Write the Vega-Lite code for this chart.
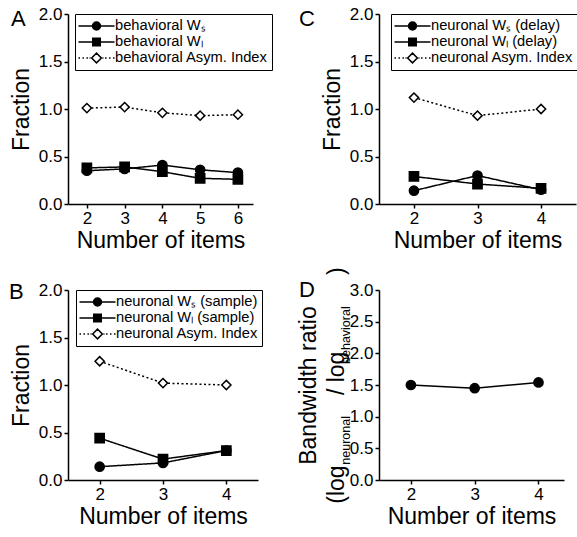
{
  "$schema": "https://vega.github.io/schema/vega-lite/v6.json",
  "padding": {"left": 9, "top": 5, "right": 0, "bottom": 0},
  "background": "white",
  "config": {
    "font": "Liberation Sans",
    "view": {"stroke": null},
    "axis": {"domainColor": "black", "domainWidth": 1.5, "tickColor": "black", "tickWidth": 1.5, "tickSize": 4, "labelColor": "black", "labelFontSize": 17, "labelPadding": 2, "titleColor": "black", "titleFontSize": 23, "titleFontWeight": "normal", "grid": false, "labelFlush": false, "labelFont": "Liberation Sans", "titleFont": "Liberation Sans"},
    "title": {"fontSize": 22, "fontWeight": "normal", "anchor": "start", "frame": "group", "color": "black", "baseline": "alphabetic", "font": "Liberation Sans"},
    "legend": {"labelFont": "Liberation Sans", "labelFontSize": 14.7, "labelColor": "black", "labelLimit": 300, "strokeColor": "black", "padding": 3.5, "symbolSize": 225, "symbolOffset": 9.5, "labelOffset": 10, "rowPadding": 0, "symbolStrokeWidth": 1.5, "symbolOpacity": 1}
  },
  "bounds": "flush",
  "columns": 2,
  "spacing": {"row": 86, "column": 121},
  "resolve": {"scale": {"shape": "independent", "fill": "independent", "strokeDash": "independent"}, "legend": {"shape": "independent", "fill": "independent", "strokeDash": "independent"}},
  "concat": [
        {
          "width": 185, "height": 190,
          "title": {"text": "A", "offset": -26, "dx": -57},
          "data": {"values": [
            {"n": 2, "s": "Ws", "v": 0.35}, {"n": 3, "s": "Ws", "v": 0.37}, {"n": 4, "s": "Ws", "v": 0.41}, {"n": 5, "s": "Ws", "v": 0.36}, {"n": 6, "s": "Ws", "v": 0.33},
            {"n": 2, "s": "Wl", "v": 0.38}, {"n": 3, "s": "Wl", "v": 0.39}, {"n": 4, "s": "Wl", "v": 0.34}, {"n": 5, "s": "Wl", "v": 0.27}, {"n": 6, "s": "Wl", "v": 0.26},
            {"n": 2, "s": "AI", "v": 1.01}, {"n": 3, "s": "AI", "v": 1.02}, {"n": 4, "s": "AI", "v": 0.96}, {"n": 5, "s": "AI", "v": 0.93}, {"n": 6, "s": "AI", "v": 0.94}
          ]},
          "encoding": {
            "x": {"field": "n", "type": "quantitative", "scale": {"domain": [1.5, 6.4], "nice": false, "zero": false}, "axis": {"values": [2, 3, 4, 5, 6], "format": "d", "title": "Number of items", "titlePadding": 3}},
            "y": {"field": "v", "type": "quantitative", "scale": {"domain": [0, 2], "nice": false}, "axis": {"values": [0, 0.5, 1, 1.5, 2], "format": ".1f", "title": "Fraction", "titlePadding": 5}}
          },
          "resolve": {"scale": {"shape": "independent", "fill": "independent"}, "legend": {"shape": "independent", "fill": "independent"}},
          "layer": [
            {"mark": {"type": "line", "color": "black", "strokeWidth": 1.5},
             "encoding": {"strokeDash": {"field": "s", "type": "nominal", "scale": {"domain": ["AI", "Wl", "Ws"], "range": [[2, 2.5], [1, 0], [1, 0]]}, "legend": null}}},
            {"mark": {"type": "point", "filled": true, "stroke": "black", "strokeWidth": 1.5, "size": 85, "opacity": 1},
             "encoding": {
               "shape": {"field": "s", "type": "nominal", "scale": {"domain": ["Wl", "Ws", "AI"], "range": ["square", "circle", "diamond"]}, "legend": null},
               "fill": {"field": "s", "type": "nominal", "scale": {"domain": ["AI", "Ws", "Wl"], "range": ["white", "black", "black"]}, "legend": null}
             }},
            {"mark": {"type": "point", "filled": true, "stroke": "black", "strokeWidth": 1.5, "opacity": 0},
             "encoding": {
               "shape": {"field": "s", "type": "nominal", "scale": {"domain": ["Ws", "Wl", "AI"], "range": ["M-2.4,0H-0.53M0.53,0H2.4M-0.53,0A0.53,0.53,0,1,1,0.53,0A0.53,0.53,0,1,1,-0.53,0Z", "M-2.4,0H-0.5M0.5,0H2.4M-0.5,-0.5H0.5V0.5H-0.5Z", "M-2.4,0H-2.2M-1.87,0H-1.67M-1.34,0H-1.14M-0.93,0H-0.8M0.8,0H0.93M1.14,0H1.34M1.67,0H1.87M2.2,0H2.4M-0.65,0L0,-0.65L0.65,0L0,0.65Z"]},
                 "legend": {"title": null, "orient": "none", "legendX": 7, "legendY": 0,
                   "labelExpr": "datum.value == 'Ws' ? 'behavioral Wₛ' : datum.value == 'Wl' ? 'behavioral Wₗ' : 'behavioral Asym. Index'",
                   "encode": {"symbols": {"stroke": {"value": "black"}, "strokeWidth": {"value": 1.5}}}}},
               "fill": {"field": "s", "type": "nominal", "scale": {"domain": ["Ws", "Wl", "AI"], "range": ["black", "black", "white"]},
                 "legend": {"title": null, "orient": "none", "legendX": 7, "legendY": 0,
                   "labelExpr": "datum.value == 'Ws' ? 'behavioral Wₛ' : datum.value == 'Wl' ? 'behavioral Wₗ' : 'behavioral Asym. Index'",
                   "encode": {"symbols": {"stroke": {"value": "black"}, "strokeWidth": {"value": 1.5}}}}}
             }}
          ]
        },
        {
          "width": 197, "height": 190,
          "title": {"text": "C", "offset": -26, "dx": -80},
          "data": {"values": [
            {"n": 2, "s": "Ws", "v": 0.14}, {"n": 3, "s": "Ws", "v": 0.30}, {"n": 4, "s": "Ws", "v": 0.15},
            {"n": 2, "s": "Wl", "v": 0.29}, {"n": 3, "s": "Wl", "v": 0.21}, {"n": 4, "s": "Wl", "v": 0.165},
            {"n": 2, "s": "AI", "v": 1.12}, {"n": 3, "s": "AI", "v": 0.93}, {"n": 4, "s": "AI", "v": 1.0}
          ]},
          "encoding": {
            "x": {"field": "n", "type": "quantitative", "scale": {"domain": [1.45, 4.55], "nice": false, "zero": false}, "axis": {"values": [2, 3, 4], "format": "d", "title": "Number of items", "titlePadding": 3}},
            "y": {"field": "v", "type": "quantitative", "scale": {"domain": [0, 2], "nice": false}, "axis": {"values": [0, 0.5, 1, 1.5, 2], "format": ".1f", "title": "Fraction", "titlePadding": 5}}
          },
          "resolve": {"scale": {"shape": "independent", "fill": "independent"}, "legend": {"shape": "independent", "fill": "independent"}},
          "layer": [
            {"mark": {"type": "line", "color": "black", "strokeWidth": 1.5},
             "encoding": {"strokeDash": {"field": "s", "type": "nominal", "scale": {"domain": ["AI", "Wl", "Ws"], "range": [[2, 2.5], [1, 0], [1, 0]]}, "legend": null}}},
            {"mark": {"type": "point", "filled": true, "stroke": "black", "strokeWidth": 1.5, "size": 85, "opacity": 1},
             "encoding": {
               "shape": {"field": "s", "type": "nominal", "scale": {"domain": ["Wl", "Ws", "AI"], "range": ["square", "circle", "diamond"]}, "legend": null},
               "fill": {"field": "s", "type": "nominal", "scale": {"domain": ["AI", "Ws", "Wl"], "range": ["white", "black", "black"]}, "legend": null}
             }},
            {"mark": {"type": "point", "filled": true, "stroke": "black", "strokeWidth": 1.5, "opacity": 0},
             "encoding": {
               "shape": {"field": "s", "type": "nominal", "scale": {"domain": ["Ws", "Wl", "AI"], "range": ["M-2.4,0H-0.53M0.53,0H2.4M-0.53,0A0.53,0.53,0,1,1,0.53,0A0.53,0.53,0,1,1,-0.53,0Z", "M-2.4,0H-0.5M0.5,0H2.4M-0.5,-0.5H0.5V0.5H-0.5Z", "M-2.4,0H-2.2M-1.87,0H-1.67M-1.34,0H-1.14M-0.93,0H-0.8M0.8,0H0.93M1.14,0H1.34M1.67,0H1.87M2.2,0H2.4M-0.65,0L0,-0.65L0.65,0L0,0.65Z"]},
                 "legend": {"title": null, "orient": "none", "legendX": 12, "legendY": 0,
                   "labelExpr": "datum.value == 'Ws' ? 'neuronal Wₛ (delay)' : datum.value == 'Wl' ? 'neuronal Wₗ (delay)' : 'neuronal Asym. Index'",
                   "encode": {"symbols": {"stroke": {"value": "black"}, "strokeWidth": {"value": 1.5}}}}},
               "fill": {"field": "s", "type": "nominal", "scale": {"domain": ["Ws", "Wl", "AI"], "range": ["black", "black", "white"]},
                 "legend": {"title": null, "orient": "none", "legendX": 12, "legendY": 0,
                   "labelExpr": "datum.value == 'Ws' ? 'neuronal Wₛ (delay)' : datum.value == 'Wl' ? 'neuronal Wₗ (delay)' : 'neuronal Asym. Index'",
                   "encode": {"symbols": {"stroke": {"value": "black"}, "strokeWidth": {"value": 1.5}}}}}
             }}
          ]
        },
        {
          "width": 190, "height": 190,
          "title": {"text": "B", "offset": -23, "dx": -59},
          "data": {"values": [
            {"n": 2, "s": "Ws", "v": 0.14}, {"n": 3, "s": "Ws", "v": 0.18}, {"n": 4, "s": "Ws", "v": 0.31},
            {"n": 2, "s": "Wl", "v": 0.44}, {"n": 3, "s": "Wl", "v": 0.22}, {"n": 4, "s": "Wl", "v": 0.31},
            {"n": 2, "s": "AI", "v": 1.25}, {"n": 3, "s": "AI", "v": 1.02}, {"n": 4, "s": "AI", "v": 1.0}
          ]},
          "encoding": {
            "x": {"field": "n", "type": "quantitative", "scale": {"domain": [1.5, 4.5], "nice": false, "zero": false}, "axis": {"values": [2, 3, 4], "format": "d", "title": "Number of items", "titlePadding": 3}},
            "y": {"field": "v", "type": "quantitative", "scale": {"domain": [0, 2], "nice": false}, "axis": {"values": [0, 0.5, 1, 1.5, 2], "format": ".1f", "title": "Fraction", "titlePadding": 5}}
          },
          "resolve": {"scale": {"shape": "independent", "fill": "independent"}, "legend": {"shape": "independent", "fill": "independent"}},
          "layer": [
            {"mark": {"type": "line", "color": "black", "strokeWidth": 1.5},
             "encoding": {"strokeDash": {"field": "s", "type": "nominal", "scale": {"domain": ["AI", "Wl", "Ws"], "range": [[2, 2.5], [1, 0], [1, 0]]}, "legend": null}}},
            {"mark": {"type": "point", "filled": true, "stroke": "black", "strokeWidth": 1.5, "size": 85, "opacity": 1},
             "encoding": {
               "shape": {"field": "s", "type": "nominal", "scale": {"domain": ["Wl", "Ws", "AI"], "range": ["square", "circle", "diamond"]}, "legend": null},
               "fill": {"field": "s", "type": "nominal", "scale": {"domain": ["AI", "Ws", "Wl"], "range": ["white", "black", "black"]}, "legend": null}
             }},
            {"mark": {"type": "point", "filled": true, "stroke": "black", "strokeWidth": 1.5, "opacity": 0},
             "encoding": {
               "shape": {"field": "s", "type": "nominal", "scale": {"domain": ["Ws", "Wl", "AI"], "range": ["M-2.4,0H-0.53M0.53,0H2.4M-0.53,0A0.53,0.53,0,1,1,0.53,0A0.53,0.53,0,1,1,-0.53,0Z", "M-2.4,0H-0.5M0.5,0H2.4M-0.5,-0.5H0.5V0.5H-0.5Z", "M-2.4,0H-2.2M-1.87,0H-1.67M-1.34,0H-1.14M-0.93,0H-0.8M0.8,0H0.93M1.14,0H1.34M1.67,0H1.87M2.2,0H2.4M-0.65,0L0,-0.65L0.65,0L0,0.65Z"]},
                 "legend": {"title": null, "orient": "none", "legendX": 8, "legendY": 0,
                   "labelExpr": "datum.value == 'Ws' ? 'neuronal Wₛ (sample)' : datum.value == 'Wl' ? 'neuronal Wₗ (sample)' : 'neuronal Asym. Index'",
                   "encode": {"symbols": {"stroke": {"value": "black"}, "strokeWidth": {"value": 1.5}}}}},
               "fill": {"field": "s", "type": "nominal", "scale": {"domain": ["Ws", "Wl", "AI"], "range": ["black", "black", "white"]},
                 "legend": {"title": null, "orient": "none", "legendX": 8, "legendY": 0,
                   "labelExpr": "datum.value == 'Ws' ? 'neuronal Wₛ (sample)' : datum.value == 'Wl' ? 'neuronal Wₗ (sample)' : 'neuronal Asym. Index'",
                   "encode": {"symbols": {"stroke": {"value": "black"}, "strokeWidth": {"value": 1.5}}}}}
             }}
          ]
        },
        {
          "width": 185, "height": 190,
          "title": {"text": "D", "offset": -35, "dx": -80},
          "data": {"values": [
            {"n": 2, "v": 1.5}, {"n": 3, "v": 1.45}, {"n": 4, "v": 1.54}
          ]},
          "encoding": {
            "x": {"field": "n", "type": "quantitative", "scale": {"domain": [1.5, 4.4], "nice": false, "zero": false}, "axis": {"values": [2, 3, 4], "format": "d", "title": "Number of items", "titlePadding": 3}}
          },
          "resolve": {"axis": {"y": "independent"}},
          "layer": [
            {"mark": {"type": "line", "color": "black", "strokeWidth": 1.5},
             "encoding": {"y": {"field": "v", "type": "quantitative", "scale": {"domain": [0, 3], "nice": false}, "axis": {"values": [0, 0.5, 1, 1.5, 2, 2.5, 3], "format": ".1f", "title": ["Bandwidth ratio", "(log\u00a0\u00a0\u00a0\u00a0\u00a0\u00a0\u00a0\u00a0\u00a0\u00a0\u00a0/ log\u00a0\u00a0\u00a0\u00a0\u00a0\u00a0\u00a0\u00a0\u00a0\u00a0\u00a0\u00a0)"], "titlePadding": 1, "titleLineHeight": 28}}}},
            {"mark": {"type": "point", "filled": true, "color": "black", "stroke": "black", "strokeWidth": 1.5, "size": 85, "opacity": 1},
             "encoding": {"y": {"field": "v", "type": "quantitative", "scale": {"domain": [0, 3], "nice": false}, "axis": {"orient": "left", "labels": false, "ticks": false, "domain": false, "titleFontSize": 12.5, "titlePadding": 27, "title": "\u00a0\u00a0\u00a0\u00a0\u00a0\u00a0\u00a0\u00a0\u00a0neuronal\u00a0\u00a0\u00a0\u00a0\u00a0\u00a0\u00a0\u00a0\u00a0\u00a0\u00a0\u00a0\u00a0\u00a0\u00a0behavioral"}}}}
          ]
        }
  ]
}
